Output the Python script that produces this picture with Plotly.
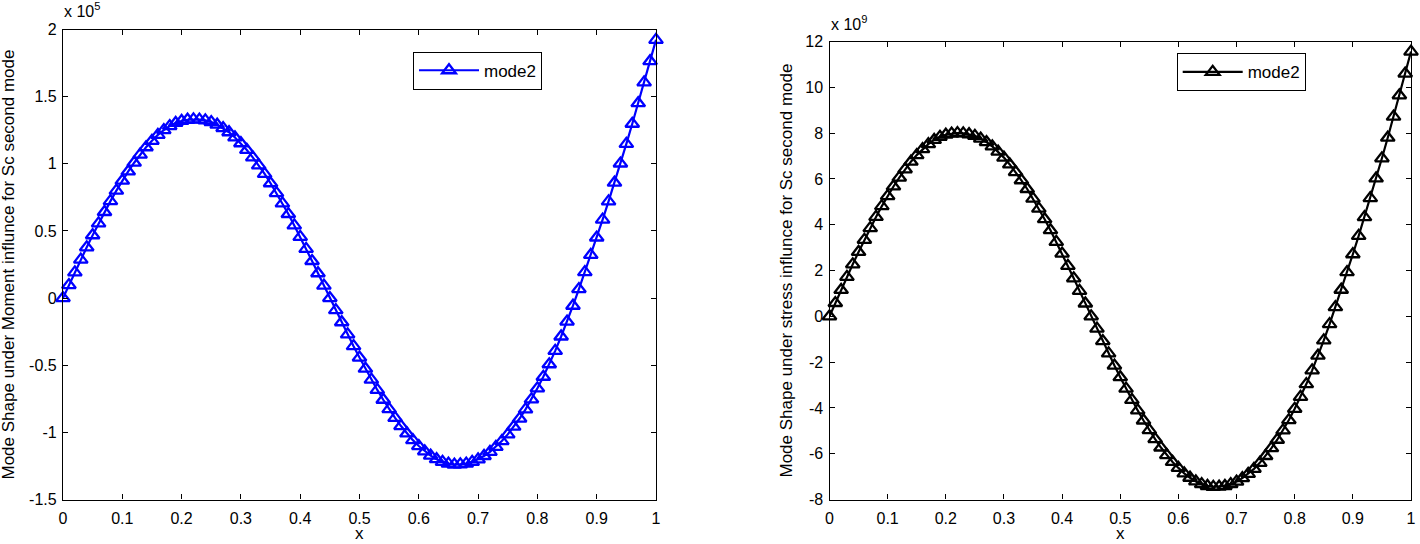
import plotly.graph_objects as go

# ---------------- data ----------------
x_pos = [0.00, 0.01, 0.02, 0.03, 0.04, 0.05, 0.06, 0.07, 0.08, 0.09,
         0.10, 0.11, 0.12, 0.13, 0.14, 0.15, 0.16, 0.17, 0.18, 0.19,
         0.20, 0.21, 0.22, 0.23, 0.24, 0.25, 0.26, 0.27, 0.28, 0.29,
         0.30, 0.31, 0.32, 0.33, 0.34, 0.35, 0.36, 0.37, 0.38, 0.39,
         0.40, 0.41, 0.42, 0.43, 0.44, 0.45, 0.46, 0.47, 0.48, 0.49,
         0.50, 0.51, 0.52, 0.53, 0.54, 0.55, 0.56, 0.57, 0.58, 0.59,
         0.60, 0.61, 0.62, 0.63, 0.64, 0.65, 0.66, 0.67, 0.68, 0.69,
         0.70, 0.71, 0.72, 0.73, 0.74, 0.75, 0.76, 0.77, 0.78, 0.79,
         0.80, 0.81, 0.82, 0.83, 0.84, 0.85, 0.86, 0.87, 0.88, 0.89,
         0.90, 0.91, 0.92, 0.93, 0.94, 0.95, 0.96, 0.97, 0.98, 0.99, 1.00]

# Moment mode shape, in units of 1e5
moment_mode2 = [0.000, 0.097, 0.191, 0.286, 0.378, 0.468, 0.556, 0.641, 0.722, 0.800,
                0.874, 0.943, 1.008, 1.068, 1.123, 1.171, 1.215, 1.251, 1.281, 1.304,
                1.319, 1.328, 1.331, 1.329, 1.323, 1.311, 1.291, 1.266, 1.235, 1.196,
                1.153, 1.103, 1.048, 0.988, 0.925, 0.855, 0.782, 0.705, 0.626, 0.541,
                0.456, 0.366, 0.276, 0.185, 0.093, 0.000, -0.090, -0.180, -0.270, -0.358,
                -0.443, -0.526, -0.607, -0.684, -0.757, -0.827, -0.892, -0.953, -1.008, -1.058,
                -1.102, -1.141, -1.173, -1.200, -1.220, -1.233, -1.240, -1.238, -1.233, -1.220,
                -1.201, -1.176, -1.145, -1.108, -1.065, -1.015, -0.958, -0.897, -0.829, -0.754,
                -0.672, -0.586, -0.493, -0.393, -0.286, -0.175, -0.057, 0.067, 0.193, 0.321,
                0.451, 0.584, 0.720, 0.859, 1.002, 1.148, 1.298, 1.451, 1.606, 1.764, 1.923]

# Stress mode shape, in units of 1e9
stress_mode2 = [0.00, 0.58, 1.15, 1.72, 2.27, 2.81, 3.34, 3.85, 4.34, 4.81,
                5.25, 5.67, 6.06, 6.42, 6.75, 7.04, 7.30, 7.52, 7.70, 7.84,
                7.93, 7.98, 8.00, 7.99, 7.95, 7.88, 7.76, 7.61, 7.42, 7.19,
                6.93, 6.63, 6.30, 5.94, 5.56, 5.14, 4.70, 4.24, 3.76, 3.25,
                2.74, 2.20, 1.66, 1.11, 0.56, 0.00, -0.54, -1.08, -1.62, -2.15,
                -2.66, -3.16, -3.65, -4.11, -4.55, -4.97, -5.36, -5.73, -6.06, -6.36,
                -6.62, -6.86, -7.05, -7.21, -7.33, -7.41, -7.45, -7.44, -7.41, -7.33,
                -7.22, -7.07, -6.88, -6.66, -6.40, -6.10, -5.76, -5.39, -4.98, -4.53,
                -4.04, -3.52, -2.96, -2.36, -1.72, -1.05, -0.34, 0.40, 1.16, 1.93,
                2.71, 3.51, 4.33, 5.16, 6.02, 6.90, 7.80, 8.72, 9.65, 10.60, 11.56]

x_ticks = [0, 0.1, 0.2, 0.3, 0.4, 0.5, 0.6, 0.7, 0.8, 0.9, 1]
x_ticktext = ["0", "0.1", "0.2", "0.3", "0.4", "0.5", "0.6", "0.7", "0.8", "0.9", "1"]
left_yticks = [-1.5, -1, -0.5, 0, 0.5, 1, 1.5, 2]
left_yticktext = ["-1.5", "-1", "-0.5", "0", "0.5", "1", "1.5", "2"]
right_yticks = [-8, -6, -4, -2, 0, 2, 4, 6, 8, 10, 12]
right_yticktext = ["-8", "-6", "-4", "-2", "0", "2", "4", "6", "8", "10", "12"]

series_name = "mode2"
left_ylabel = "Mode Shape under Moment influnce for Sc second mode"
right_ylabel = "Mode Shape under stress influnce for Sc second mode"

# ---------------- figure ----------------
W, H = 1420, 544
FONT = "Liberation Sans, Arial, Helvetica, sans-serif"

def px_x(p):
    return p / W

def px_y(p):
    return 1 - p / H

fig = go.Figure()

fig.add_trace(go.Scatter(
    x=x_pos, y=moment_mode2, name=series_name, mode="lines+markers",
    line=dict(color="#0000ff", width=2.2),
    marker=dict(symbol="triangle-up-open", size=12, color="#0000ff",
                line=dict(width=2.3, color="#0000ff")),
    cliponaxis=False, xaxis="x", yaxis="y", legend="legend"))

fig.add_trace(go.Scatter(
    x=x_pos, y=stress_mode2, name=series_name, mode="lines+markers",
    line=dict(color="#000000", width=2.2),
    marker=dict(symbol="triangle-up-open", size=12, color="#000000",
                line=dict(width=2.3, color="#000000")),
    cliponaxis=False, xaxis="x2", yaxis="y2", legend="legend2"))

axis_common = dict(
    showline=True, linecolor="black", linewidth=1.3, mirror="ticks",
    ticks="inside", ticklen=5, tickwidth=1.3, tickcolor="black",
    showgrid=False, zeroline=False, automargin=False,
    tickfont=dict(family=FONT, size=16, color="black"),
)

left_dom_x = [px_x(63), px_x(656)]
right_dom_x = [px_x(829.5), px_x(1411)]
bottom = px_y(499.5)

fig.update_layout(
    width=W, height=H,
    margin=dict(l=0, r=0, t=0, b=0, autoexpand=False),
    paper_bgcolor="white", plot_bgcolor="white",
    font=dict(family=FONT, color="black"),
    xaxis=dict(axis_common, domain=left_dom_x, range=[0, 1], anchor="y",
               tickvals=x_ticks, ticktext=x_ticktext, ticklabelstandoff=4),
    yaxis=dict(axis_common, domain=[bottom, px_y(29.5)], range=[-1.5, 2], anchor="x",
               tickvals=left_yticks, ticktext=left_yticktext, ticklabelstandoff=2),
    xaxis2=dict(axis_common, domain=right_dom_x, range=[0, 1], anchor="y2",
                tickvals=x_ticks, ticktext=x_ticktext, ticklabelstandoff=4),
    yaxis2=dict(axis_common, domain=[bottom, px_y(41.5)], range=[-8, 12], anchor="x2",
                tickvals=right_yticks, ticktext=right_yticktext, ticklabelstandoff=2),
    legend=dict(x=px_x(413), y=px_y(51.7), xanchor="left", yanchor="top",
                bordercolor="black", borderwidth=1, bgcolor="white",
                font=dict(family=FONT, size=17, color="black"), itemwidth=60),
    legend2=dict(x=px_x(1176.7), y=px_y(53.3), xanchor="left", yanchor="top",
                 bordercolor="black", borderwidth=1, bgcolor="white",
                 font=dict(family=FONT, size=17, color="black"), itemwidth=60),
    showlegend=True,
)

annotations = [
    dict(text="x 10<sup>5</sup>", x=px_x(62), y=px_y(22), xref="paper", yref="paper",
         xanchor="left", yanchor="bottom", showarrow=False,
         font=dict(family=FONT, size=16, color="black")),
    dict(text="x 10<sup>9</sup>", x=px_x(829), y=px_y(35), xref="paper", yref="paper",
         xanchor="left", yanchor="bottom", showarrow=False,
         font=dict(family=FONT, size=16, color="black")),
    dict(text=left_ylabel, x=px_x(8), y=px_y(264.5), xref="paper", yref="paper",
         xanchor="center", yanchor="middle", textangle=-90, showarrow=False,
         font=dict(family=FONT, size=17, color="black")),
    dict(text=right_ylabel, x=px_x(786), y=px_y(270.5), xref="paper", yref="paper",
         xanchor="center", yanchor="middle", textangle=-90, showarrow=False,
         font=dict(family=FONT, size=17, color="black")),
    dict(text="x", x=px_x(359.5), y=px_y(533.5), xref="paper", yref="paper",
         xanchor="center", yanchor="middle", showarrow=False, borderpad=0,
         font=dict(family=FONT, size=17, color="black")),
    dict(text="x", x=px_x(1120), y=px_y(533.5), xref="paper", yref="paper",
         xanchor="center", yanchor="middle", showarrow=False, borderpad=0,
         font=dict(family=FONT, size=17, color="black")),
]
fig.update_layout(annotations=annotations)

fig.write_html(
    "out.html",
    config={"displayModeBar": False},
    post_script="document.body.style.margin='0px';document.body.style.overflow='hidden';",
)
